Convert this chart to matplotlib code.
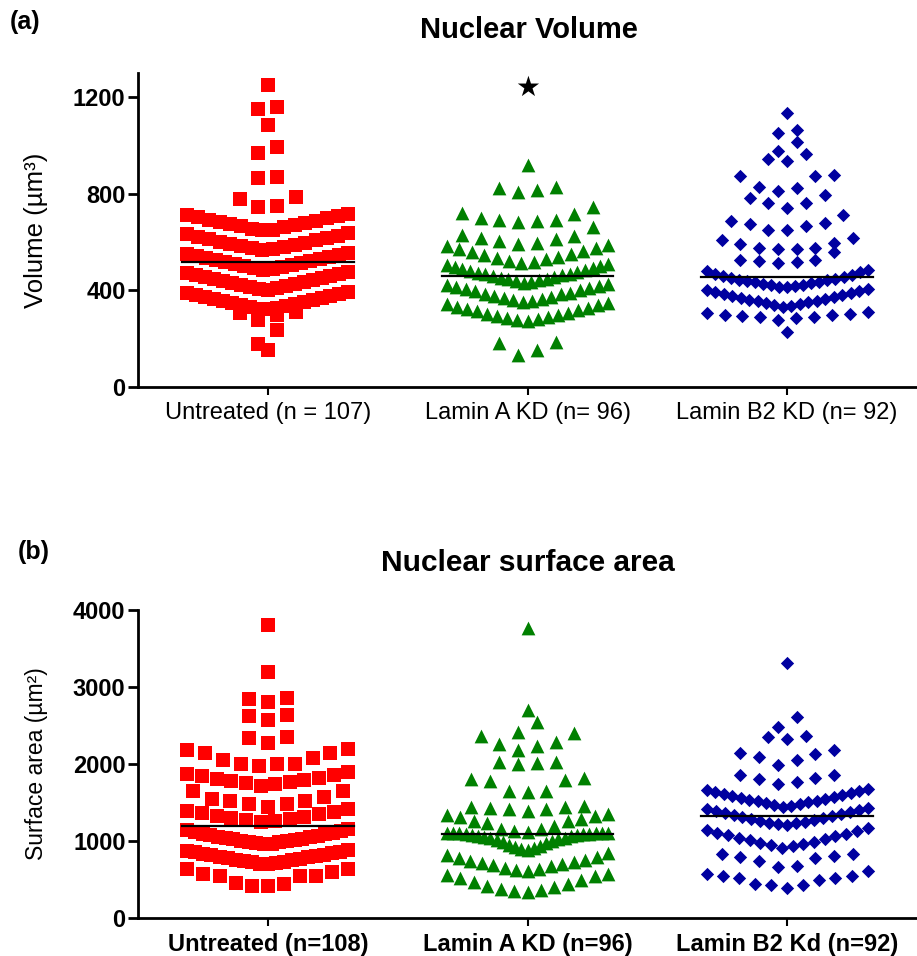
import numpy as np
import matplotlib.pyplot as plt

plt.rcParams['font.family'] = ['Liberation Sans', 'DejaVu Sans']

labels_vol = ['Untreated (n = 107)', 'Lamin A KD (n= 96)', 'Lamin B2 KD (n= 92)']
labels_area = ['Untreated (n=108)', 'Lamin A KD (n=96)', 'Lamin B2 Kd (n=92)']

# nuclear volume (um^3)
vol_untreated = [155, 180, 235, 277, 298, 305, 312,
                 322, 325, 329, 333, 337, 341, 344, 348, 352, 356, 360, 364, 368, 372, 376, 380, 384, 388, 393,
                 402, 406, 410, 414, 418, 422, 426, 430, 434, 438, 442, 446, 450, 454, 458, 462, 467, 471, 476,
                 485, 489, 493, 497, 501, 505, 509, 513, 517, 521, 525, 529, 533, 537, 541, 545, 549, 553,
                 566, 570, 574, 579, 583, 587, 592, 597, 602, 607, 612, 617, 622, 627, 632, 637,
                 648, 652, 656, 661, 665, 669, 673, 678, 683, 688, 693, 698, 703, 708, 713, 718,
                 745, 750, 780, 785, 865, 870, 970, 995, 1085, 1150, 1160, 1250]
vol_laminA = [132, 153, 182, 186,
              272, 276, 281, 285, 290, 294, 299, 303, 308, 313, 318, 323, 328, 333, 338, 343, 347,
              353, 357, 361, 365, 370, 374, 378, 383, 387, 391, 396, 400, 405, 409, 414, 419, 423, 428,
              432, 435, 439, 442, 446, 449, 452, 455, 459, 462, 466, 469, 473, 476, 480, 484, 488, 492,
              496, 500, 504, 508,
              513, 518, 523, 529, 534, 540, 546, 552, 558, 564, 570, 576, 582, 587,
              592, 598, 605, 612, 618, 624, 630, 663,
              684, 686, 691, 693, 699, 715, 720, 745,
              808, 815, 822, 829, 920]
vol_laminB2 = [229,
               277, 285, 288, 291, 294, 297, 300, 303, 306, 309,
               332, 336, 340, 344, 348, 352, 355, 358, 362, 366, 370, 373, 376, 380, 384, 388, 392, 396, 400, 405,
               412, 415, 418, 421, 424, 427, 430, 433, 436, 439, 442, 445, 448, 451, 454, 458, 462, 467,
               477, 481, 484,
               512, 519, 521, 526, 526, 560,
               570, 570, 574, 574, 592, 597, 608, 619,
               650, 652, 667, 674, 680, 688, 712,
               742, 760, 760, 783, 794,
               812, 825, 829, 873, 873, 877,
               937, 946, 963, 978, 1015, 1050, 1066, 1135]

# nuclear surface area (um^2)
area_untreated = [417, 417, 439, 460, 547, 547, 547, 568, 603, 634, 634,
                  700, 708, 716, 724, 733, 742, 751, 760, 769, 778, 787, 796, 805, 814, 823, 832, 842, 852,
                  863, 876, 890,
                  958, 966, 974, 982, 990, 998, 1006, 1014, 1022, 1031, 1040, 1049, 1058, 1067, 1076, 1085,
                  1095, 1105, 1116, 1127, 1139, 1152,
                  1242, 1256, 1270, 1285, 1300, 1315, 1330, 1345, 1360, 1377, 1395, 1414,
                  1437, 1481, 1481, 1525, 1525, 1546, 1568, 1655, 1655,
                  1720, 1735, 1750, 1765, 1780, 1795, 1810, 1825, 1842, 1858, 1875, 1893,
                  1980, 2000, 2000, 2006, 2046, 2072, 2137, 2137, 2176, 2195,
                  2267, 2332, 2345, 2567, 2620, 2632, 2810, 2850, 2853, 3192, 3805]
area_laminA = [335, 345, 360, 380, 400, 420, 440, 465, 490, 515, 540, 560, 575,
               612, 625, 640, 655, 670, 685, 700, 715, 730, 745, 760, 775, 795, 815, 840,
               880, 895, 910, 925, 940, 955, 970, 985, 1000, 1012, 1024, 1035, 1045, 1054, 1062, 1069,
               1076, 1082, 1088, 1093, 1097, 1100, 1103, 1105, 1107, 1108, 1109,
               1120, 1135, 1150, 1162, 1200, 1231, 1264, 1264, 1290, 1316, 1329, 1342, 1350,
               1394, 1410, 1415, 1424, 1437, 1446, 1452,
               1640, 1650, 1655, 1780, 1787, 1809, 1823,
               2000, 2007, 2024, 2028,
               2176, 2228, 2254, 2280, 2358, 2400,
               2415, 2545, 2697, 3766]
area_laminB2 = [395, 430, 430, 447, 490, 525, 525, 547, 547, 569, 612,
                664, 670, 742, 786, 790, 800, 830, 835,
                916, 930, 945, 960, 976, 992, 1008, 1025, 1042, 1059, 1076, 1093, 1110, 1128, 1146, 1165,
                1205, 1216, 1228, 1240, 1252, 1264, 1276, 1288, 1300, 1312, 1325, 1338, 1351, 1364, 1377,
                1390, 1403, 1414, 1425,
                1442, 1454, 1466, 1478, 1490, 1502, 1514, 1526, 1538, 1550, 1563, 1576, 1589, 1602, 1615,
                1628, 1641, 1654, 1667, 1680,
                1742, 1772, 1806, 1815, 1863, 1863,
                1993, 2055, 2089, 2133, 2141, 2176,
                2320, 2350, 2363, 2480, 2610, 3306]

colors = ['#FF0000', '#008000', '#0000A0']
markers = ['s', '^', 'D']
msizes = [92, 98, 46]


def column_x(values, center, bin_h, origin, step=0.072, half=0.31):
    # column scatter: bin by value, lowest in the middle, spread outwards
    v = np.asarray(values, float)
    rows = np.floor((v - origin) / bin_h)
    x = np.full(len(v), float(center))
    for r in np.unique(rows):
        idx = np.where(rows == r)[0]
        idx = idx[np.argsort(v[idx], kind='stable')]
        n = len(idx)
        if n < 2:
            continue
        s = min(step, 2 * half / (n - 1))
        slots = (np.arange(n) - (n - 1) / 2) * s
        x[idx] = center + slots[np.argsort(np.abs(slots), kind='stable')]
    return x


def panel(ax, data, bin_h, origins, ticklabels, ylim, yticks, ylabel, label_size, bold_x):
    for i, vals in enumerate(data):
        x = column_x(vals, i, bin_h, origins[i])
        ax.scatter(x, vals, marker=markers[i], s=msizes[i], color=colors[i],
                   linewidths=0, zorder=2)
        med = np.median(vals)
        ax.plot([i - 0.33, i + 0.33], [med, med], color='black', lw=1.6, zorder=3)
    ax.set_xlim(-0.5, 2.5)
    ax.set_ylim(*ylim)
    ax.set_yticks(yticks)
    ax.set_xticks(range(3))
    ax.set_xticklabels(ticklabels, fontsize=17, fontweight='bold' if bold_x else 'normal')
    for t in ax.get_yticklabels():
        t.set_fontweight('bold')
        t.set_fontsize(17)
    ax.set_ylabel(ylabel, fontsize=label_size)
    ax.yaxis.set_label_coords(-0.115, 0.5)
    for side in ['top', 'right']:
        ax.spines[side].set_visible(False)
    for side in ['left', 'bottom']:
        ax.spines[side].set_linewidth(2)
    ax.tick_params(axis='y', length=7, width=2, pad=2)
    ax.tick_params(axis='x', length=6, width=1.5, pad=5)


fig = plt.figure(figsize=(9.17, 9.56), dpi=100)
ax1 = fig.add_axes([0.1505, 0.5952, 0.8495, 0.3284])
ax2 = fig.add_axes([0.1505, 0.0397, 0.8495, 0.3222])

panel(ax1, [vol_untreated, vol_laminA, vol_laminB2], 80, [0, 30, 10], labels_vol,
      (0, 1300), [0, 400, 800, 1200], 'Volume (µm³)', 18.5, False)
panel(ax2, [area_untreated, area_laminA, area_laminB2], 260, [120, 70, 130], labels_area,
      (0, 4000), [0, 1000, 2000, 3000, 4000], 'Surface area (µm²)', 16.5, True)

ax1.text(1, 1237, '★', ha='center', va='center', fontsize=20, family='DejaVu Sans')

fig.text(529 / 917, 1 - 30 / 956, 'Nuclear Volume', ha='center', va='center',
         fontsize=21, fontweight='bold')
fig.text(528 / 917, 1 - 563 / 956, 'Nuclear surface area', ha='center', va='center',
         fontsize=21.5, fontweight='bold')
fig.text(10 / 917, 1 - 22 / 956, '(a)', ha='left', va='center', fontsize=18, fontweight='bold')
fig.text(18 / 917, 1 - 552 / 956, '(b)', ha='left', va='center', fontsize=18, fontweight='bold')

fig.savefig('out.png', dpi=100)
